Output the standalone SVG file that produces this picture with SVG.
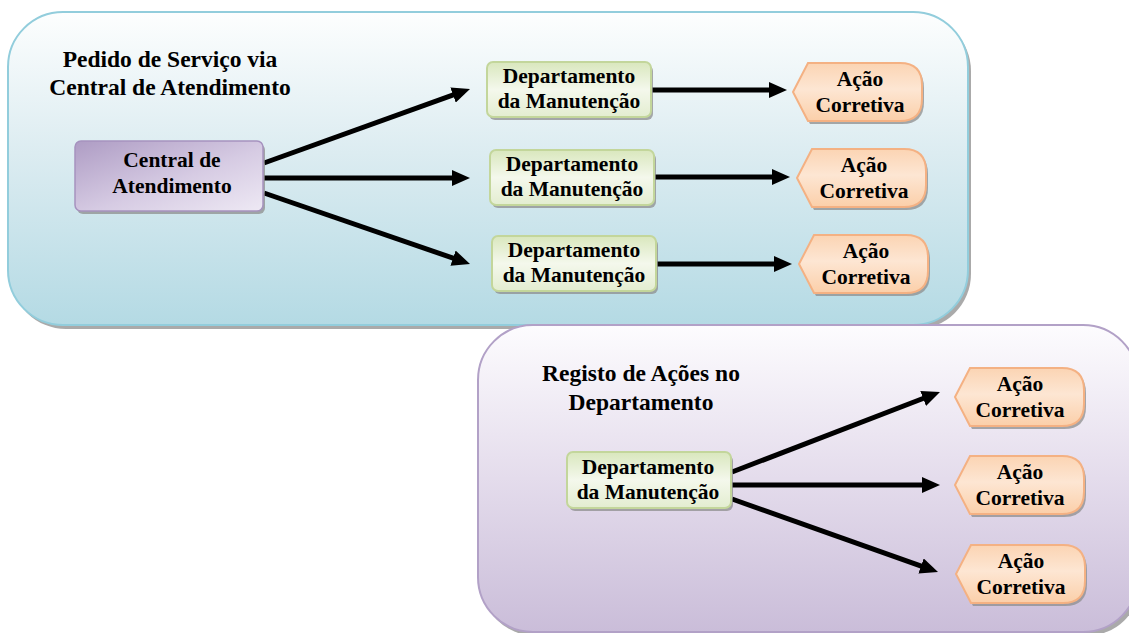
<svg xmlns="http://www.w3.org/2000/svg" width="1129" height="633" viewBox="0 0 1129 633">
  <defs>
    <linearGradient id="gPanelBlue" x1="0" y1="0" x2="0" y2="1">
      <stop offset="0" stop-color="#fdfefe"/>
      <stop offset="0.45" stop-color="#dcecf1"/>
      <stop offset="1" stop-color="#b4dae4"/>
    </linearGradient>
    <linearGradient id="gPanelPurple" x1="0" y1="0" x2="0" y2="1">
      <stop offset="0" stop-color="#fdfcfe"/>
      <stop offset="0.5" stop-color="#e4dcec"/>
      <stop offset="1" stop-color="#cabdd9"/>
    </linearGradient>
    <linearGradient id="gCentral" x1="0" y1="0" x2="1" y2="1">
      <stop offset="0" stop-color="#ae9cc4"/>
      <stop offset="0.55" stop-color="#d6cbe3"/>
      <stop offset="1" stop-color="#eee9f4"/>
    </linearGradient>
    <linearGradient id="gDept" x1="0" y1="0" x2="0" y2="1">
      <stop offset="0" stop-color="#d9e7bd"/>
      <stop offset="0.5" stop-color="#f4f8ec"/>
      <stop offset="1" stop-color="#e3edd0"/>
    </linearGradient>
    <linearGradient id="gAcao" x1="0" y1="0" x2="0" y2="1">
      <stop offset="0" stop-color="#fbd4b3"/>
      <stop offset="0.45" stop-color="#fde6d3"/>
      <stop offset="1" stop-color="#fbcfa9"/>
    </linearGradient>
    <marker id="arrow" markerUnits="userSpaceOnUse" markerWidth="18" markerHeight="16" refX="4" refY="8" orient="auto">
      <path d="M0,0 L18,8 L0,16 z" fill="#000"/>
    </marker>
    <path id="acaoShape" d="M0,29 L15,0 L107,0 Q129,0 129,22 L129,36 Q129,58 107,58 L15,58 Z"/>
  </defs>
  <style>
    .shadow { fill: #8d8d8d; opacity: 0.75; }
    .panelBlue { fill: url(#gPanelBlue); stroke: #92cddc; stroke-width: 2; }
    .panelPurple { fill: url(#gPanelPurple); stroke: #b2a1c7; stroke-width: 2; }
    .central { fill: url(#gCentral); stroke: #a692bf; stroke-width: 1.5; }
    .dept { fill: url(#gDept); stroke: #c3d69b; stroke-width: 2; }
    .acao { fill: url(#gAcao); stroke: #f4b183; stroke-width: 2; }
    .title { font-family: "Liberation Serif", "Times New Roman", serif; font-weight: bold; font-size: 23.5px; fill: #000; text-anchor: middle; }
    .label { font-family: "Liberation Serif", "Times New Roman", serif; font-weight: bold; font-size: 21.5px; fill: #000; text-anchor: middle; }
    .conn { stroke: #000; stroke-width: 5; fill: none; marker-end: url(#arrow); }
  </style>

  <!-- Panel: service request via call centre -->
  <g id="panel-pedido">
    <rect class="shadow" x="11" y="16" width="960" height="313" rx="55"/>
    <rect class="panelBlue" x="8" y="12" width="960" height="313" rx="55"/>
    <text class="title" x="170" y="67">Pedido de Serviço via</text>
    <text class="title" x="170" y="95">Central de Atendimento</text>
  </g>

  <!-- Panel: actions registered in the department -->
  <g id="panel-registo">
    <rect class="shadow" x="481" y="329" width="660" height="307" rx="55"/>
    <rect class="panelPurple" x="478" y="325" width="660" height="307" rx="55"/>
    <text class="title" x="641" y="381">Registo de Ações no</text>
    <text class="title" x="641" y="410">Departamento</text>
  </g>

  <!-- Connectors -->
  <g id="connectors">
    <line class="conn" x1="264" y1="163" x2="456.8" y2="93.7"/>
    <line class="conn" x1="264" y1="178" x2="456" y2="178"/>
    <line class="conn" x1="264" y1="193" x2="456.8" y2="259.4"/>
    <line class="conn" x1="652" y1="90" x2="773" y2="90"/>
    <line class="conn" x1="655" y1="177" x2="776" y2="177"/>
    <line class="conn" x1="657" y1="264" x2="778" y2="264"/>
    <line class="conn" x1="732" y1="472" x2="926.9" y2="397"/>
    <line class="conn" x1="732" y1="485" x2="926" y2="485"/>
    <line class="conn" x1="732" y1="499" x2="924.8" y2="567.3"/>
  </g>

  <!-- Call centre -->
  <g id="central">
    <rect class="shadow" x="77" y="144" width="188" height="70" rx="6"/>
    <rect class="central" x="75" y="141" width="188" height="70" rx="6"/>
    <text class="label" x="172" y="167">Central de</text>
    <text class="label" x="172" y="193">Atendimento</text>
  </g>

  <!-- Maintenance department nodes -->
  <g id="dept-1">
    <rect class="shadow" x="489" y="65" width="164" height="55" rx="6"/>
    <rect class="dept" x="487" y="62" width="164" height="55" rx="6"/>
    <text class="label" x="569" y="83">Departamento</text>
    <text class="label" x="569" y="108">da Manutenção</text>
  </g>
  <g id="dept-2">
    <rect class="shadow" x="492" y="153" width="164" height="55" rx="6"/>
    <rect class="dept" x="490" y="150" width="164" height="55" rx="6"/>
    <text class="label" x="572" y="171">Departamento</text>
    <text class="label" x="572" y="196">da Manutenção</text>
  </g>
  <g id="dept-3">
    <rect class="shadow" x="494" y="239" width="164" height="55" rx="6"/>
    <rect class="dept" x="492" y="236" width="164" height="55" rx="6"/>
    <text class="label" x="574" y="257">Departamento</text>
    <text class="label" x="574" y="282">da Manutenção</text>
  </g>
  <g id="dept-4">
    <rect class="shadow" x="569" y="455" width="164" height="56" rx="6"/>
    <rect class="dept" x="567" y="452" width="164" height="56" rx="6"/>
    <text class="label" x="648" y="474">Departamento</text>
    <text class="label" x="648" y="499">da Manutenção</text>
  </g>

  <!-- Corrective action nodes -->
  <g id="acao-1">
    <use href="#acaoShape" class="shadow" x="795" y="66"/>
    <use href="#acaoShape" class="acao" x="793" y="63"/>
    <text class="label" x="860" y="86">Ação</text>
    <text class="label" x="860" y="112">Corretiva</text>
  </g>
  <g id="acao-2">
    <use href="#acaoShape" class="shadow" x="799" y="152"/>
    <use href="#acaoShape" class="acao" x="797" y="149"/>
    <text class="label" x="864" y="172">Ação</text>
    <text class="label" x="864" y="198">Corretiva</text>
  </g>
  <g id="acao-3">
    <use href="#acaoShape" class="shadow" x="801" y="238"/>
    <use href="#acaoShape" class="acao" x="799" y="235"/>
    <text class="label" x="866" y="258">Ação</text>
    <text class="label" x="866" y="284">Corretiva</text>
  </g>
  <g id="acao-4">
    <use href="#acaoShape" class="shadow" x="957" y="371"/>
    <use href="#acaoShape" class="acao" x="955" y="368"/>
    <text class="label" x="1020" y="391">Ação</text>
    <text class="label" x="1020" y="417">Corretiva</text>
  </g>
  <g id="acao-5">
    <use href="#acaoShape" class="shadow" x="957" y="459"/>
    <use href="#acaoShape" class="acao" x="955" y="456"/>
    <text class="label" x="1020" y="479">Ação</text>
    <text class="label" x="1020" y="505">Corretiva</text>
  </g>
  <g id="acao-6">
    <use href="#acaoShape" class="shadow" x="958" y="548"/>
    <use href="#acaoShape" class="acao" x="956" y="545"/>
    <text class="label" x="1021" y="568">Ação</text>
    <text class="label" x="1021" y="594">Corretiva</text>
  </g>
</svg>
